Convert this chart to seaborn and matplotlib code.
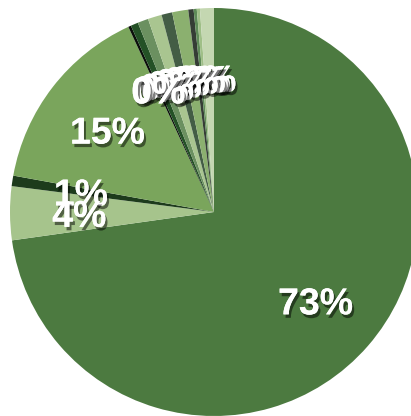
import matplotlib
matplotlib.use("Agg")
import matplotlib.pyplot as plt
import matplotlib.patheffects as pe
import seaborn as sns

# slice shares (%), clockwise from 12 o'clock
shares = [72.8, 4.25, 0.83, 15.25,
          0.22, 0.59, 0.85, 1.10, 0.85, 1.27, 0.42, 0.25, 0.25, 1.10]
# labels as printed on the chart
pct_labels = ["73%", "4%", "1%", "15%",
              "0%", "0%", "0%", "0%", "0%", "0%", "0%", "0%", "0%", "0%"]
colors = ["#4c7a40", "#a6c48c", "#1d3b1c", "#7aa55c",
          "#0b0f0a", "#245126", "#6b9060", "#a9c590", "#435d45",
          "#8bb06f", "#353d35", "#5e8b57", "#9fbf87", "#c4d7b1"]

sns.set_style("white")
plt.rcParams["font.family"] = ["Liberation Sans", "DejaVu Sans"]

fig = plt.figure(figsize=(4.11, 4.16), dpi=100)
ax = fig.add_axes([10 / 411, 0 / 416, 408 / 411, 408 / 416])

lab_iter = iter(pct_labels)
wedges, texts, autotexts = ax.pie(
    shares, colors=colors, startangle=90, counterclock=False,
    autopct=lambda p: next(lab_iter), pctdistance=0.66,
    wedgeprops=dict(linewidth=0),
    textprops=dict(color="white", fontsize=27, fontweight="bold"),
)
shadow = [pe.withSimplePatchShadow(offset=(1.5, -2.5), shadow_rgbFace="black", alpha=0.5),
          pe.Normal()]
n = len(autotexts)
for i, t in enumerate(autotexts):
    t.set_path_effects(shadow)
    t.set_va("center_baseline")
    # earlier labels sit on top of later ones, as in the original
    t.set_zorder(10 + n - i)

ax.set_xlim(-1, 1)
ax.set_ylim(-1, 1)
ax.axis("off")

fig.savefig("out.png", dpi=100)
